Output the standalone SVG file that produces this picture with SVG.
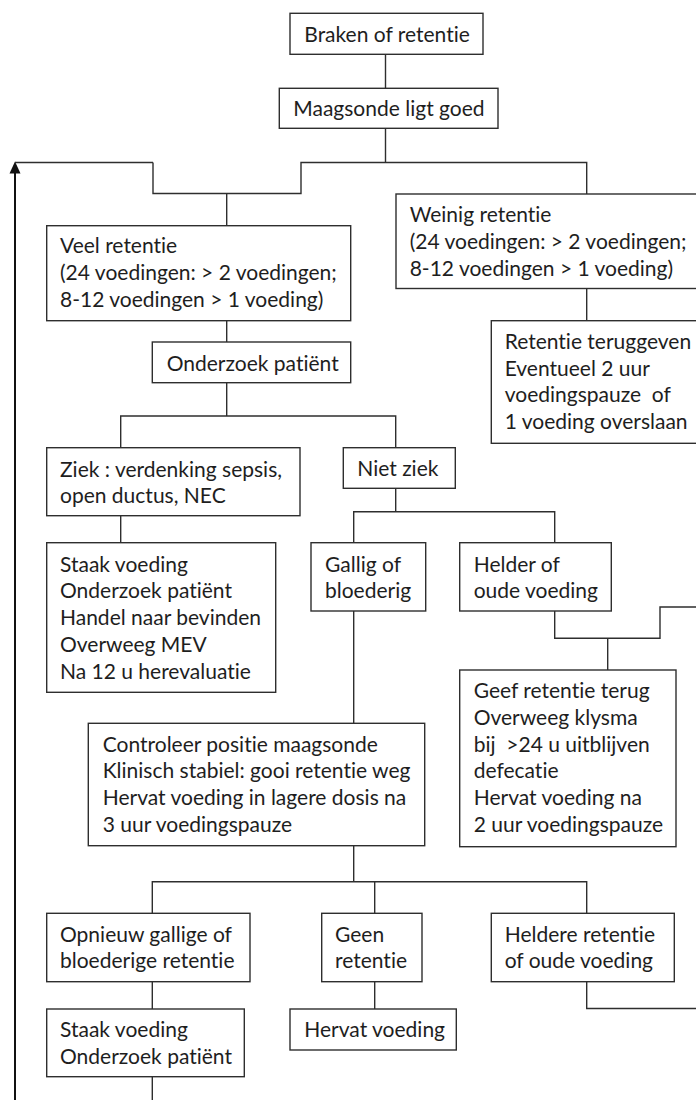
<svg xmlns="http://www.w3.org/2000/svg" width="696" height="1100" viewBox="0 0 696 1100">
<style>
.b{fill:#fff;stroke:#2e2e2e;stroke-width:1.4}
.c{fill:none;stroke:#2e2e2e;stroke-width:1.4}
text{font-family:Lato,"Open Sans","Liberation Sans",sans-serif;font-size:21px;fill:#1e1e1e;font-variant-ligatures:none;font-feature-settings:"liga" 0,"clig" 0;white-space:pre}
</style>
<rect width="696" height="1100" fill="#fff"/>
<g id="connectors">
<path class="c" d="M385.5,54 V88"/>
<path class="c" d="M385.5,128 V162.5"/>
<path class="c" d="M153,162.5 V193.5 H301 V162.5 H586.7 V194"/>
<path class="c" d="M226.7,193.5 V225.7"/>
<path class="c" d="M226.7,320.7 V342"/>
<path class="c" d="M586.7,288.5 V320.7"/>
<path class="c" d="M226.7,382.7 V416 M120.7,447.7 V416 H395.7 V447.7"/>
<path class="c" d="M120.7,515.7 V542.7"/>
<path class="c" d="M395.7,488.3 V511.7 M353.7,542.7 V511.7 H554.7 V542.7"/>
<path class="c" d="M554.7,611 V638.3 H660 V607 H696 M607.7,638.3 V670"/>
<path class="c" d="M353.7,611 V723.3"/>
<path class="c" d="M353.7,845.7 V881.7 M152.3,913.3 V881.7 H586.7 V913.3 M374.7,881.7 V913.3"/>
<path class="c" d="M152.3,981.7 V1009 M152.3,1076.7 V1100"/>
<path class="c" d="M374.7,981.7 V1009"/>
<path class="c" d="M586.7,981.7 V1008.5 H696"/>
<path d="M15,1100 V173" fill="none" stroke="#111" stroke-width="2"/>
<path d="M15,161.5 L20.5,173.5 L9.5,173.5 Z" fill="#111"/>
<path class="c" d="M15,162.5 H153"/>
</g>
<g id="n1"><rect class="b" x="290" y="13.3" width="193" height="41"/><text x="304.3" y="41.7">Braken of retentie</text></g>
<g id="n2"><rect class="b" x="279.3" y="88.3" width="218.7" height="40"/><text x="293.3" y="115.7">Maagsonde ligt goed</text></g>
<g id="n3"><rect class="b" x="46.7" y="225.7" width="304" height="95"/>
<text x="60" y="253.3">Veel retentie</text><text x="60" y="280">(24 voedingen: &gt; 2 voedingen;</text><text x="60" y="306.7">8-12 voedingen &gt; 1 voeding)</text></g>
<g id="n4"><rect class="b" x="396" y="194" width="310" height="94.5"/>
<text x="409.7" y="221.7">Weinig retentie</text><text x="409.7" y="249">(24 voedingen: &gt; 2 voedingen;</text><text x="409.7" y="275.7">8-12 voedingen &gt; 1 voeding)</text></g>
<g id="n5"><rect class="b" x="491.3" y="320.7" width="215" height="122.6"/>
<text x="504.7" y="349">Retentie teruggeven</text><text x="504.7" y="375.7">Eventueel 2 uur</text><text x="504.7" y="402.4" xml:space="preserve">voedingspauze  of</text><text x="504.7" y="429.1">1 voeding overslaan</text></g>
<g id="n6"><rect class="b" x="152.3" y="342" width="198.4" height="40.7"/><text x="166.7" y="370.7">Onderzoek patiënt</text></g>
<g id="n7"><rect class="b" x="46.7" y="447.7" width="253.3" height="68"/>
<text x="60" y="476.7">Ziek : verdenking sepsis,</text><text x="60" y="503.3">open ductus, NEC</text></g>
<g id="n8"><rect class="b" x="343.3" y="447.7" width="112" height="40.6"/><text x="357.3" y="476">Niet ziek</text></g>
<g id="n9"><rect class="b" x="46.7" y="542.7" width="229" height="149.6"/>
<text x="60" y="571.7">Staak voeding</text><text x="60" y="598.4">Onderzoek patiënt</text><text x="60" y="625.1">Handel naar bevinden</text><text x="60" y="651.8">Overweeg MEV</text><text x="60" y="678.5">Na 12 u herevaluatie</text></g>
<g id="n10"><rect class="b" x="311" y="542.7" width="114.7" height="68.3"/>
<text x="325" y="571.7">Gallig of</text><text x="325" y="598.4">bloederig</text></g>
<g id="n11"><rect class="b" x="459.7" y="542.7" width="151.6" height="68.3"/>
<text x="473.7" y="571.7">Helder of</text><text x="473.7" y="598.4">oude voeding</text></g>
<g id="n12"><rect class="b" x="459.7" y="670" width="216.3" height="176.7"/>
<text x="473.7" y="698.3">Geef retentie terug</text><text x="473.7" y="725">Overweeg klysma</text><text x="473.7" y="751.7" xml:space="preserve">bij  &gt;24 u uitblijven</text><text x="473.7" y="778.4">defecatie</text><text x="473.7" y="805.1">Hervat voeding na</text><text x="473.7" y="831.8">2 uur voedingspauze</text></g>
<g id="n13"><rect class="b" x="88.3" y="723.3" width="336.4" height="122.4"/>
<text x="102.7" y="751.7">Controleer positie maagsonde</text><text x="102.7" y="778.4">Klinisch stabiel: gooi retentie weg</text><text x="102.7" y="805.1">Hervat voeding in lagere dosis na</text><text x="102.7" y="831.8">3 uur voedingspauze</text></g>
<g id="n14"><rect class="b" x="46.7" y="913.3" width="203.3" height="68.4"/>
<text x="60" y="941.7">Opnieuw gallige of</text><text x="60" y="968.4">bloederige retentie</text></g>
<g id="n15"><rect class="b" x="321.7" y="913.3" width="100.3" height="68.4"/>
<text x="335" y="941.7">Geen</text><text x="335" y="968.4">retentie</text></g>
<g id="n16"><rect class="b" x="491.3" y="913.3" width="183" height="68.4"/>
<text x="504.7" y="941.7">Heldere retentie</text><text x="504.7" y="968.4">of oude voeding</text></g>
<g id="n17"><rect class="b" x="46.7" y="1009" width="197.6" height="67.7"/>
<text x="60" y="1037.3">Staak voeding</text><text x="60" y="1064">Onderzoek patiënt</text></g>
<g id="n18"><rect class="b" x="290" y="1009" width="166.3" height="41"/><text x="304.3" y="1037.3">Hervat voeding</text></g>
</svg>
